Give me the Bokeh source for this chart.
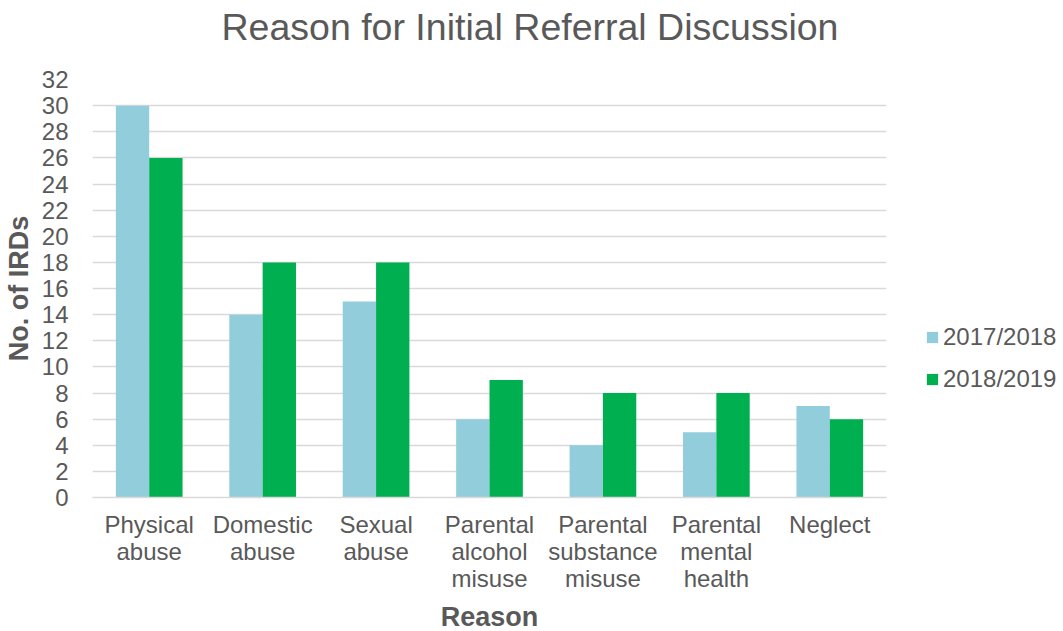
from bokeh.plotting import figure
from bokeh.models import ColumnDataSource, FactorRange, Range1d, SingleIntervalTicker, Legend, LegendItem, Title
from bokeh.transform import dodge
from bokeh.embed import file_html
from bokeh.resources import INLINE

title_text = "Reason for Initial Referral Discussion"
categories = ["Physical\nabuse", "Domestic\nabuse", "Sexual\nabuse",
              "Parental\nalcohol\nmisuse", "Parental\nsubstance\nmisuse",
              "Parental\nmental\nhealth", "Neglect"]
series_names = ["2017/2018", "2018/2019"]
values_2017 = [30, 14, 15, 6, 4, 5, 7]
values_2018 = [26, 18, 18, 9, 8, 8, 6]
colors = ["#92CDDC", "#00B050"]

TEXT = "#595959"
FONT = "Liberation Sans"

source = ColumnDataSource(dict(cat=categories, a=values_2017, b=values_2018))

p = figure(x_range=FactorRange(*categories), y_range=Range1d(0, 32),
           frame_width=794, frame_height=418, output_backend="svg", toolbar_location=None,
           min_border_left=84, min_border_right=169, min_border_top=0, min_border_bottom=20,
           title=None)
p.x_range.range_padding = 0
p.outline_line_color = None

bw = 0.294
r1 = p.vbar(x=dodge("cat", -bw / 2, range=p.x_range), top="a", width=bw, source=source,
            fill_color=colors[0], line_color=None)
r2 = p.vbar(x=dodge("cat", bw / 2, range=p.x_range), top="b", width=bw, source=source,
            fill_color=colors[1], line_color=None)

# invisible spacer between frame and title (closest to frame)
spacer = Title(text="\u200b", text_font_size="1px", standoff=26, text_color="#FFFFFF")
p.add_layout(spacer, "above")

title = Title(text=title_text, align="left", offset=129, standoff=6,
              text_font=FONT, text_font_size="37.5px", text_font_style="normal",
              text_color=TEXT)
p.add_layout(title, "above")

p.yaxis.ticker = SingleIntervalTicker(interval=2)
p.ygrid.ticker = SingleIntervalTicker(interval=2)
p.ygrid.grid_line_color = "#D9D9D9"
p.ygrid.grid_line_width = 1.5
p.xgrid.grid_line_color = None

for ax in (p.xaxis, p.yaxis):
    ax.major_label_text_font = FONT
    ax.major_label_text_font_size = "24px"
    ax.major_label_text_color = TEXT
    ax.axis_label_text_font = FONT
    ax.axis_label_text_font_size = "27px"
    ax.axis_label_text_font_style = "bold"
    ax.axis_label_text_color = TEXT
    ax.major_tick_line_color = None
    ax.minor_tick_line_color = None

p.yaxis.axis_line_color = None
p.xaxis.axis_line_color = "#D9D9D9"
p.xaxis.axis_line_width = 1.5
p.yaxis.axis_label = "No. of IRDs"
p.xaxis.axis_label = "Reason"
p.yaxis.major_label_standoff = 18
p.xaxis.major_label_standoff = 7
p.xaxis.major_label_text_line_height = 1.0
p.xaxis.axis_label_standoff = 7

legend = Legend(items=[LegendItem(label=series_names[0], renderers=[r1]),
                       LegendItem(label=series_names[1], renderers=[r2])],
                location=(39, 104), orientation="vertical")
legend.label_text_font = FONT
legend.label_text_font_size = "24px"
legend.label_text_color = TEXT
legend.glyph_width = 14
legend.glyph_height = 14
legend.label_standoff = 4
legend.spacing = 14
legend.padding = 0
legend.margin = 0
legend.border_line_color = None
legend.background_fill_alpha = 0
p.add_layout(legend, "right")

open("out.html", "w").write(file_html(p, INLINE))
